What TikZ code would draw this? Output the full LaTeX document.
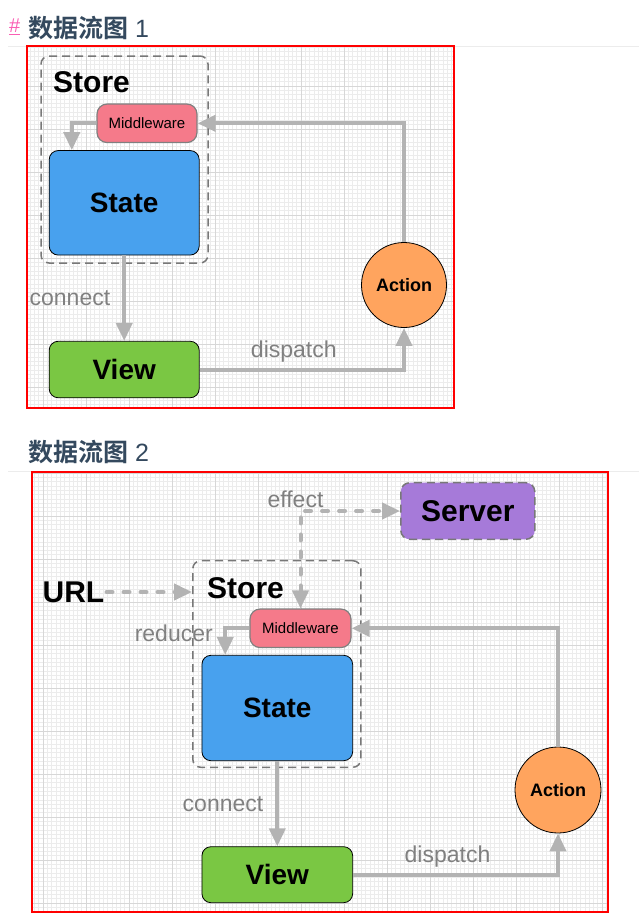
\documentclass[tikz,border=0pt]{standalone}
\usepackage{fontspec}
\setmainfont{Liberation Sans}
\newfontfamily\cjk{Noto Sans CJK SC}[BoldFont={Noto Sans CJK SC Bold}]
\usetikzlibrary{arrows.meta,positioning}

\definecolor{framered}{RGB}{255,0,0}
\definecolor{headcol}{RGB}{52,73,94}
\definecolor{hashpink}{RGB}{250,95,180}
\definecolor{headrule}{RGB}{236,236,236}
\definecolor{minorcol}{RGB}{236,236,236}
\definecolor{majorcol}{RGB}{215,215,215}
\definecolor{storeline}{RGB}{120,120,120}
\definecolor{mwfill}{RGB}{245,122,138}
\definecolor{mwline}{RGB}{128,128,128}
\definecolor{statefill}{RGB}{72,161,238}
\definecolor{viewfill}{RGB}{122,199,67}
\definecolor{actionfill}{RGB}{255,164,94}
\definecolor{serverfill}{RGB}{166,122,217}
\definecolor{edgegray}{RGB}{179,179,179}
\definecolor{labelgray}{RGB}{128,128,128}

\tikzset{flowtip/.tip={Triangle[length=18pt,width=16pt]}}

\begin{document}
\begin{tikzpicture}[x=1pt,y=-1pt,
  heading/.style={anchor=base west,inner sep=0pt,text=headcol,font=\fontsize{25}{28}\selectfont},
  frame/.style={draw=framered,line width=2pt},
  minorgrid/.style={draw=minorcol,line width=0.5pt,step=4.3pt},
  majorgrid/.style={draw=majorcol,line width=0.7pt,step=43pt},
  box/.style={draw=black,line width=0.8pt,rounded corners=9pt,inner sep=0pt,font=\fontsize{28}{30}\selectfont\bfseries},
  storebox/.style={draw=storeline,line width=1.5pt,dash pattern=on 8pt off 5pt,rounded corners=8pt,inner sep=0pt,minimum width=167pt,minimum height=207pt},
  storelabel/.style={anchor=west,inner sep=0pt,font=\fontsize{30}{32}\selectfont\bfseries},
  mw/.style={draw=mwline,fill=mwfill,line width=1.2pt,rounded corners=10pt,inner sep=0pt,minimum width=100pt,minimum height=38.5pt,font=\fontsize{15}{17}\selectfont},
  act/.style={circle,draw=black,fill=actionfill,line width=0.8pt,inner sep=0pt,minimum size=85pt,font=\fontsize{18}{20}\selectfont\bfseries},
  lbl/.style={text=labelgray,inner sep=0pt,font=\fontsize{23}{25}\selectfont},
  flow/.style={draw=edgegray,line width=4pt,-flowtip},
  dflow/.style={draw=edgegray,line width=4pt,line cap=round,dash pattern=on 6pt off 11pt}]

\useasboundingbox (0,0) rectangle (639,914);

% headings
\draw[headrule,line width=1pt] (8,46.5) -- (639,46.5);
\draw[headrule,line width=1pt] (8,471.7) -- (639,471.7);
\node[anchor=base west,inner sep=0pt,text=hashpink,font=\fontsize{20}{22}\selectfont] (hash) at (9,32.5) {\underline{\#}};
\node[heading] (title1) at (28,37) {{\cjk\bfseries 数据流图}\hspace{7pt}1};
\node[heading] (title2) at (28,461.3) {{\cjk\bfseries 数据流图}\hspace{7pt}2};

% grids and frames
\begin{scope}
\clip (27,408) rectangle (454,46);
\draw[minorgrid] (27,408) grid (454,46);
\draw[majorgrid] (27,408) grid (454,46);
\end{scope}
\draw[frame] (27,46) rectangle (454,408);

\begin{scope}
\clip (32,912) rectangle (607.5,472);
\draw[minorgrid] (32,912) grid (607.5,472);
\draw[majorgrid] (32,912) grid (607.5,472);
\end{scope}
\draw[frame] (32,472) rectangle (607.5,912);

% diagram 1
\begin{scope}
\node[storebox] (store1) at (124.5,159.5) {};
\node[storelabel] (storetext1) at (53,82) {Store};
\node[mw] (mw1) at (147,123.3) {Middleware};
\node[box,fill=statefill,minimum width=150pt,minimum height=104.5pt] (state1) at (124.2,202.8) {State};
\node[box,fill=viewfill,minimum width=150pt,minimum height=56.5pt] (view1) at (124.2,369.5) {View};
\node[act] (action1) at (404,285) {Action};

\draw[flow] (mw1.west) -| ([xshift=23pt]state1.north west);
\draw[flow] (action1.north) |- (mw1.east);
\draw[flow] (state1.south) -- node[lbl,midway,left=12pt] {connect} (view1.north);
\draw[flow] (view1.east) -| node[lbl,pos=0.25,above=5pt,xshift=-8pt] {dispatch} (action1.south);
\end{scope}

% diagram 2
\begin{scope}
\node[storebox,minimum width=168pt,minimum height=206.6pt] (store2) at (276.8,664) {};
\node[storelabel] (storetext2) at (207,588) {Store};
\node[mw,minimum width=101pt] (mw2) at (300.5,628.3) {Middleware};
\node[box,fill=statefill,minimum width=150.7pt,minimum height=105.4pt] (state2) at (277.3,708) {State};
\node[box,fill=viewfill,minimum width=150.7pt,minimum height=56pt] (view2) at (277.3,874.7) {View};
\node[act,minimum size=86pt] (action2) at (558,790) {Action};
\node[box,draw=storeline,line width=1.5pt,dash pattern=on 8pt off 5pt,fill=serverfill,font=\fontsize{30}{32}\selectfont\bfseries,minimum width=134pt,minimum height=56.6pt] (server) at (467.8,511) {Server};
\node[inner sep=2pt,font=\fontsize{30}{32}\selectfont\bfseries] (url) at (73.5,592) {URL};

\draw[dflow,flowtip-flowtip] (mw2.north) |- node[lbl,pos=0.5,above=1pt,xshift=-5pt] {effect} (server.west);
\draw[dflow,-flowtip] (url.east) -- (url -| store2.west);
\draw[flow] (mw2.west) -| node[lbl,pos=0.5,left=10.5pt,yshift=-5pt] {reducer} ([xshift=23.7pt]state2.north west);
\draw[flow] (action2.north) |- (mw2.east);
\draw[flow] (state2.south) -- node[lbl,midway,left=12pt] {connect} (view2.north);
\draw[flow] (view2.east) -| node[lbl,pos=0.25,above=5pt,xshift=-8pt] {dispatch} (action2.south);
\end{scope}

\end{tikzpicture}
\end{document}
